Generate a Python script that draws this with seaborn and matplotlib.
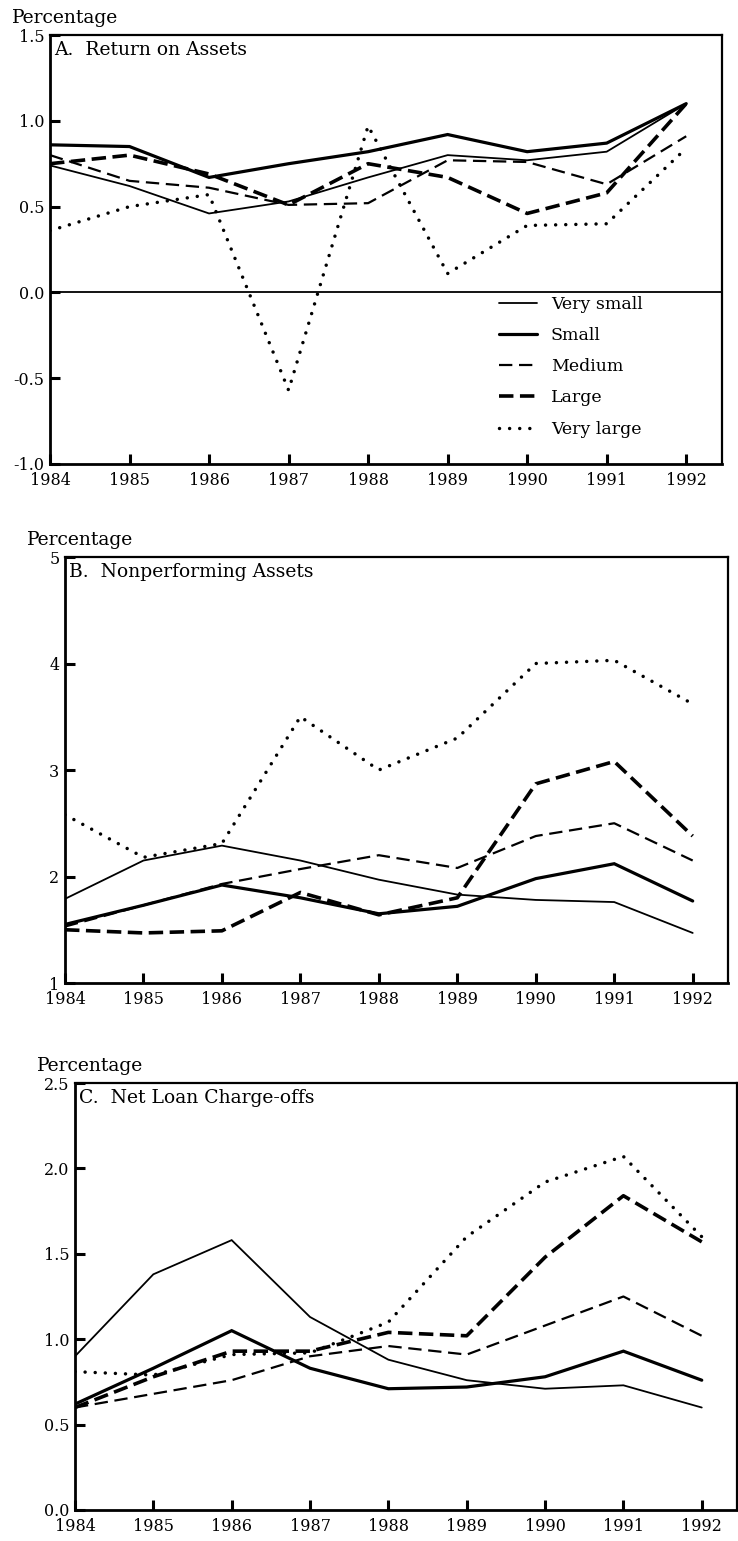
import matplotlib
matplotlib.use("Agg")
import matplotlib.pyplot as plt
import seaborn as sns
import numpy as np

# lata
years = [1984, 1985, 1986, 1987, 1988, 1989, 1990, 1991, 1992]
groups = ["Very small", "Small", "Medium", "Large", "Very large"]

# A. Return on Assets
roa_very_small = [0.74, 0.62, 0.46, 0.53, 0.67, 0.80, 0.77, 0.82, 1.10]
roa_small = [0.86, 0.85, 0.67, 0.75, 0.82, 0.92, 0.82, 0.87, 1.10]
roa_medium = [0.80, 0.65, 0.61, 0.51, 0.52, 0.77, 0.76, 0.63, 0.91]
roa_large = [0.75, 0.80, 0.69, 0.51, 0.75, 0.67, 0.46, 0.58, 1.10]
roa_very_large = [0.36, 0.50, 0.57, -0.57, 0.97, 0.11, 0.39, 0.40, 0.84]

# B. Nonperforming Assets
npa_very_small = [1.79, 2.15, 2.29, 2.15, 1.97, 1.83, 1.78, 1.76, 1.47]
npa_small = [1.55, 1.73, 1.92, 1.80, 1.65, 1.72, 1.98, 2.12, 1.77]
npa_medium = [1.53, 1.73, 1.93, 2.07, 2.20, 2.08, 2.38, 2.50, 2.15]
npa_large = [1.50, 1.47, 1.49, 1.85, 1.64, 1.80, 2.87, 3.08, 2.38]
npa_very_large = [2.58, 2.18, 2.31, 3.50, 3.00, 3.30, 4.00, 4.03, 3.62]

# C. Net Loan Charge-offs
nlc_very_small = [0.90, 1.38, 1.58, 1.13, 0.88, 0.76, 0.71, 0.73, 0.60]
nlc_small = [0.62, 0.83, 1.05, 0.83, 0.71, 0.72, 0.78, 0.93, 0.76]
nlc_medium = [0.60, 0.68, 0.76, 0.90, 0.96, 0.91, 1.08, 1.25, 1.02]
nlc_large = [0.60, 0.78, 0.93, 0.93, 1.04, 1.02, 1.48, 1.84, 1.57]
nlc_very_large = [0.81, 0.79, 0.91, 0.92, 1.10, 1.60, 1.92, 2.07, 1.60]

titles = ["A.  Return on Assets", "B.  Nonperforming Assets", "C.  Net Loan Charge-offs"]
yticks_a = [-1.0, -0.5, 0.0, 0.5, 1.0, 1.5]
ytick_labels_a = ["-1.0", "-0.5", "0.0", "0.5", "1.0", "1.5"]
yticks_b = [1, 2, 3, 4, 5]
ytick_labels_b = ["1", "2", "3", "4", "5"]
yticks_c = [0.0, 0.5, 1.0, 1.5, 2.0, 2.5]
ytick_labels_c = ["0.0", "0.5", "1.0", "1.5", "2.0", "2.5"]

# style linii: (szerokosc, styl)
styles = [
    (1.3, "-"),
    (2.3, "-"),
    (1.6, (0, (6, 3))),
    (2.6, (0, (4, 1.8))),
    (2.5, (0, (0.01, 2.9))),
]

sns.set_theme(style="ticks")
plt.rcParams["font.family"] = ["DejaVu Serif"]
plt.rcParams["axes.unicode_minus"] = False
plt.rcParams["text.color"] = "black"
plt.rcParams["xtick.color"] = "black"
plt.rcParams["ytick.color"] = "black"
plt.rcParams["xtick.labelcolor"] = "black"
plt.rcParams["ytick.labelcolor"] = "black"

W, H = 738, 1541
fig = plt.figure(figsize=(W / 100, H / 100), dpi=100)

# pozycje paneli w pikselach: left, top, right, bottom
boxes = [(50, 35, 722, 464), (65, 557, 728, 983), (75, 1083, 737, 1510)]
panels = [
    [roa_very_small, roa_small, roa_medium, roa_large, roa_very_large],
    [npa_very_small, npa_small, npa_medium, npa_large, npa_very_large],
    [nlc_very_small, nlc_small, nlc_medium, nlc_large, nlc_very_large],
]
ylims = [(-1.0, 1.5), (1, 5), (0.0, 2.5)]
yticks = [yticks_a, yticks_b, yticks_c]
yticklabels = [ytick_labels_a, ytick_labels_b, ytick_labels_c]

for i, (l, t, r, b) in enumerate(boxes):
    ax = fig.add_axes([l / W, 1 - b / H, (r - l) / W, (b - t) / H])
    for name, vals, (lw, ls) in zip(groups, panels[i], styles):
        sns.lineplot(x=years, y=vals, ax=ax, color="black", linewidth=lw,
                     linestyle=ls, dash_capstyle="round" if name == "Very large" else "butt",
                     solid_joinstyle="miter", label=name, legend=False)
    if i == 0:
        ax.axhline(0, color="black", lw=1.3)
        leg = ax.legend(loc="lower right", bbox_to_anchor=(0.905, 0.025), frameon=False,
                        fontsize=12.5, handlelength=2.2, labelspacing=0.82, handletextpad=0.8)
        for txt in leg.get_texts():
            txt.set_color("black")
    ax.set_xlim(1984, 1992.45)
    ax.set_ylim(*ylims[i])
    ax.set_xticks(years)
    ax.set_xticklabels([str(y) for y in years], fontsize=11.5, color="black")
    ax.set_yticks(yticks[i])
    ax.set_yticklabels(yticklabels[i], fontsize=11.5, color="black")
    ax.tick_params(direction="in", length=7, width=2.2, color="black",
                   bottom=True, left=True, top=False, right=False)
    ax.tick_params(axis="x", pad=6)
    ax.tick_params(axis="y", pad=4)
    ax.set_xlabel("")
    ax.set_ylabel("")
    for s in ax.spines.values():
        s.set_visible(True)
        s.set_color("black")
        s.set_linewidth(2.0)
    ax.spines["right"].set_linewidth(1.6)
    ax.spines["top"].set_linewidth(1.6)
    ax.text(0.006, 0.985, titles[i], transform=ax.transAxes, ha="left", va="top",
            fontsize=13.5, color="black")
    fig.text((l - 38) / W, 1 - (t - 8) / H, "Percentage", ha="left", va="bottom",
             fontsize=13.5, color="black")

fig.savefig("out.png", dpi=100)
